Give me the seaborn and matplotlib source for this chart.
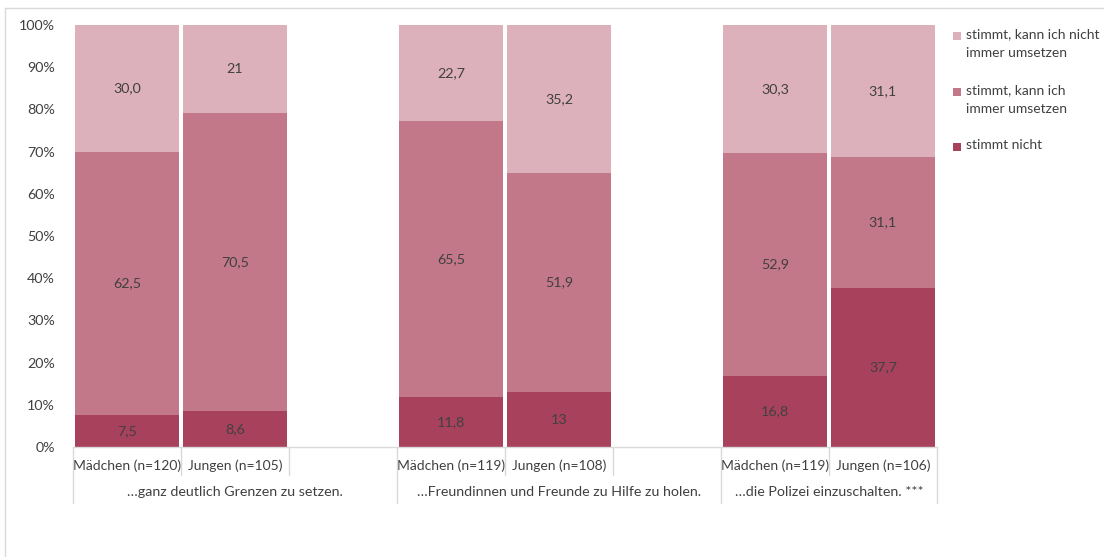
import numpy as np
import pandas as pd
import matplotlib.pyplot as plt
import seaborn as sns
from matplotlib.lines import Line2D
from matplotlib.patches import Rectangle

# slots on the category axis (empty slots keep the gaps between groups)
slots = ["m1", "j1", "gap1", "m2", "j2", "gap2", "m3", "j3"]
slot_labels = ["Mädchen (n=120)", "Jungen (n=105)", "",
               "Mädchen (n=119)", "Jungen (n=108)", "",
               "Mädchen (n=119)", "Jungen (n=106)"]
bar_slots = ["m1", "j1", "m2", "j2", "m3", "j3"]
groups = ["…ganz deutlich Grenzen zu setzen.",
          "…Freundinnen und Freunde zu Hilfe zu holen.",
          "…die Polizei einzuschalten. ***"]

stimmt_nicht = [7.5, 8.6, 11.8, 13.0, 16.8, 37.7]
kann_immer = [62.5, 70.5, 65.5, 51.9, 52.9, 31.1]
kann_nicht_immer = [30.0, 21.0, 22.7, 35.2, 30.3, 31.1]
lbl_nicht = ["7,5", "8,6", "11,8", "13", "16,8", "37,7"]
lbl_immer = ["62,5", "70,5", "65,5", "51,9", "52,9", "31,1"]
lbl_nicht_immer = ["30,0", "21", "22,7", "35,2", "30,3", "31,1"]

series_names = ["stimmt, kann ich nicht\nimmer umsetzen",
                "stimmt, kann ich\nimmer umsetzen",
                "stimmt nicht"]
colors = ["#DDB1BB", "#C27888", "#A8425C"]

sns.set_style("white")
plt.rcParams["font.family"] = ["Lato", "DejaVu Sans"]
txt = "#404040"
fs = 10.3

df = pd.DataFrame({"slot": bar_slots, "nicht": stimmt_nicht,
                   "immer": kann_immer, "nicht_immer": kann_nicht_immer})
df["c1"] = df["nicht"]
df["c2"] = df["nicht"] + df["immer"]
df["c3"] = df["c2"] + df["nicht_immer"]

fig = plt.figure(figsize=(11.04, 5.57), dpi=100)
ax = fig.add_axes([73 / 1104, 1 - 447 / 557, (937 - 73) / 1104, (447 - 25) / 557])

for col, c in zip(["c3", "c2", "c1"], colors):
    sns.barplot(data=df, x="slot", y=col, order=slots, color=c, width=0.955,
                saturation=1, linewidth=0, ax=ax, errorbar=None)

# value labels centred in each segment
pos = {s: i for i, s in enumerate(slots)}
for _, r in df.iterrows():
    x = pos[r["slot"]]
    i = bar_slots.index(r["slot"])
    ax.text(x, r["c1"] / 2, lbl_nicht[i], ha="center", va="center", fontsize=fs, color=txt)
    ax.text(x, (r["c1"] + r["c2"]) / 2, lbl_immer[i], ha="center", va="center", fontsize=fs, color=txt)
    ax.text(x, (r["c2"] + r["c3"]) / 2, lbl_nicht_immer[i], ha="center", va="center", fontsize=fs, color=txt)

ax.set_xlim(-0.5, len(slots) - 0.5)
ax.set_ylim(0, 100)
ax.set_yticks(np.arange(0, 101, 10))
ax.set_yticklabels([f"{v}%" for v in range(0, 101, 10)], fontsize=fs, color=txt)
ax.set_xticks(range(len(slots)))
ax.set_xticklabels(slot_labels, fontsize=10, color=txt)
ax.tick_params(axis="x", length=0, pad=9)
ax.tick_params(axis="y", length=0, pad=13)
ax.set_xlabel("")
ax.set_ylabel("")
for s in ["top", "right", "left"]:
    ax.spines[s].set_visible(False)
ax.spines["bottom"].set_color("#D9D9D9")
ax.spines["bottom"].set_linewidth(1)

# multi-level category axis: separators and group labels
trans = ax.get_xaxis_transform()
row1 = -28 / 422
row2 = -56 / 422
group_edges = [-0.5, 2.5, 5.5, 7.5]
inner_edges = [0.5, 1.5, 3.5, 4.5, 6.5]
for e in group_edges:
    ax.add_line(Line2D([e, e], [0, row2], transform=trans, color="#D9D9D9", lw=1, clip_on=False))
for e in inner_edges:
    ax.add_line(Line2D([e, e], [0, row1], transform=trans, color="#D9D9D9", lw=1, clip_on=False))
for g, a, b in zip(groups, group_edges[:-1], group_edges[1:]):
    ax.text((a + b) / 2, (row1 + row2) / 2 - 0.006, g, transform=trans, ha="center",
            va="center", fontsize=fs, color=txt)

# legend on the right
leg_y = [28, 84, 139]
for name, c, y in zip(series_names, colors, leg_y):
    fig.patches.append(Rectangle((953 / 1104, 1 - (y + 12) / 557), 8 / 1104, 8 / 557,
                                 transform=fig.transFigure, facecolor=c, edgecolor="none"))
    fig.text(966 / 1104, 1 - y / 557, name, ha="left", va="top", fontsize=10,
             color=txt, linespacing=1.7)

# chart frame (left and top edges visible)
fig.add_artist(Line2D([5 / 1104, 5 / 1104], [0, 1 - 8 / 557], transform=fig.transFigure,
                      color="#D9D9D9", lw=1))
fig.add_artist(Line2D([5 / 1104, 1], [1 - 8 / 557, 1 - 8 / 557], transform=fig.transFigure,
                      color="#D9D9D9", lw=1))

fig.savefig("out.png", dpi=100)
